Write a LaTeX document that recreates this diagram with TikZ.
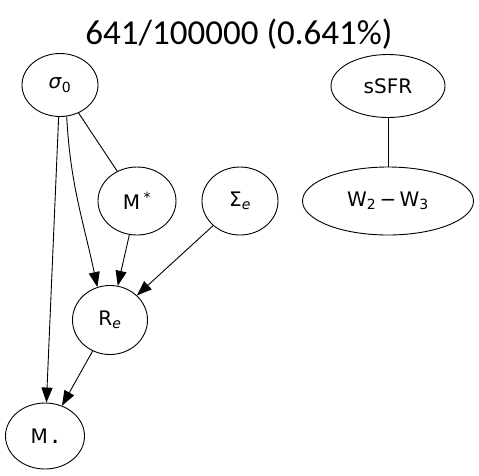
\documentclass[tikz,border=0pt]{standalone}
\usepackage{fontspec}
\setmainfont{DejaVu Sans}
\newfontfamily\titlefont{Carlito}
\usetikzlibrary{arrows.meta,shapes.geometric}
\begin{document}
\begin{tikzpicture}[x=1pt,y=-1pt,
  nd/.style={draw,ellipse,inner sep=0pt,line width=0.9pt,font=\fontsize{20}{24}\selectfont},
  arr/.style={-{Triangle[length=15pt,width=11pt]},line width=0.9pt},
  lin/.style={line width=0.9pt}]
\useasboundingbox (0,0) rectangle (479,475);
\node[font=\titlefont\fontsize{35}{40}\selectfont] (title) at (239,34) {641/100000 (0.641\%)};
\node[nd,minimum width=76,minimum height=63] (s0) at (60,85) {\textit{σ}\textsubscript{0}};
\node[nd,minimum width=114,minimum height=63] (ssfr) at (388,86) {sSFR};
\node[nd,minimum width=78,minimum height=68] (ms) at (137,201) {M\,\textsuperscript{*}};
\node[nd,minimum width=76,minimum height=68] (se) at (240,201) {Σ\textsubscript{\textit{e}}};
\node[nd,minimum width=171,minimum height=68] (w) at (388,201) {W\textsubscript{2}\,−\,W\textsubscript{3}};
\node[nd,minimum width=75,minimum height=69] (re) at (110,320) {R\textsubscript{\textit{e}}};
\node[nd,minimum width=79,minimum height=66] (mbh) at (45,436) {M\,\raisebox{-0.5pt}{\scalebox{1.3}{.}}};
\draw[lin] (s0) -- (ms);
\draw[lin] (ssfr) -- (w);
\draw[arr] (s0.-78) to[out=-87,in=102] (re.111);
\draw[arr] (s0) -- (mbh);
\draw[arr] (ms) -- (re);
\draw[arr] (se) -- (re);
\draw[arr] (re) -- (mbh);
\end{tikzpicture}
\end{document}
